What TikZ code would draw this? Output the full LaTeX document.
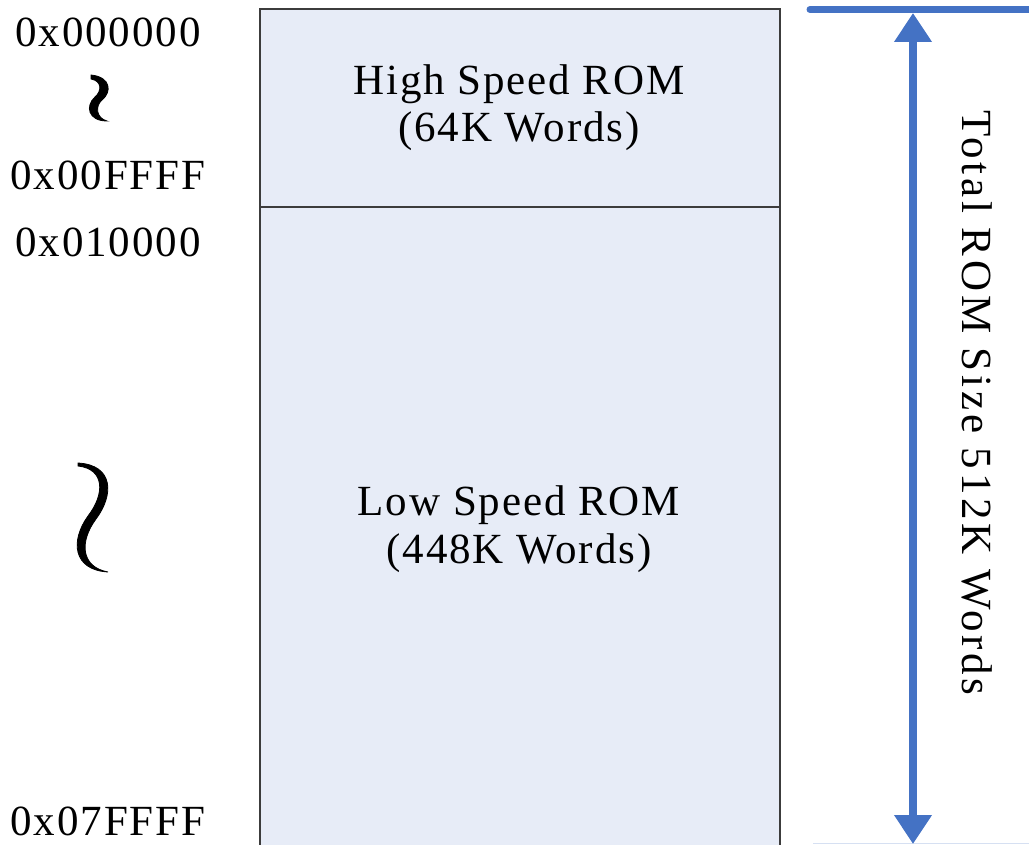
\documentclass[tikz,border=0pt]{standalone}
\usepackage{fontspec}
\setmainfont{Liberation Serif}
\newfontfamily\lsfont[LetterSpace=4.4]{Liberation Serif}
\newfontfamily\vsfont[LetterSpace=8.8]{Liberation Serif}
\usetikzlibrary{arrows.meta}
\definecolor{romfill}{RGB}{231,236,247}
\definecolor{romedge}{RGB}{60,60,60}
\definecolor{dimblue}{RGB}{68,114,196}
\definecolor{dimfaint}{RGB}{214,224,242}
\tikzset{
  lbl/.style={anchor=base, inner sep=0pt, font=\lsfont\fontsize{43}{50}\selectfont},
  romtxt/.style={anchor=base, inner sep=0pt, font=\lsfont\fontsize{43}{50}\selectfont},
  vtxt/.style={anchor=base, inner sep=0pt, rotate=-90, font=\vsfont\fontsize{43}{50}\selectfont},
  dimline/.style={draw=dimblue, line width=7pt, line cap=round},
  dimarrow/.style={draw=dimblue, line width=8pt,
    {Triangle[width=36pt,length=29pt]}-{Triangle[width=36pt,length=29pt]}},
  squig/.style={fill=black, draw=black, line width=0.8pt}
}
\begin{document}
\begin{tikzpicture}[x=1pt,y=-1pt]
\useasboundingbox (0,0) rectangle (1029,845);
\begin{scope}
\clip (0,0) rectangle (1029,845);
% ROM blocks
\draw[fill=romfill, draw=romedge, line width=1.3pt] (260,9) rectangle (780,860);
\draw[romedge, line width=1.3pt] (260,207) -- (780,207);
% dimension lines
\coordinate (dtopL) at (810,9.5);
\coordinate (dtopR) at (1040,9.5);
\draw[dimline] (dtopL) -- (dtopR);
\coordinate (dbotL) at (813,843.5);
\coordinate (dbotR) at (1040,843.5);
\draw[dimfaint, line width=1.2pt] (dbotL) -- (dbotR);
\coordinate (atop) at (913,13);
\coordinate (abot) at (913,844);
\draw[dimarrow] (atop) -- (abot);
\end{scope}
% texts in blocks
\node[romtxt] (hs1) at (519,95) {High Speed ROM};
\node[romtxt] (hs2) at (519,142) {(64K Words)};
\node[romtxt] (ls1) at (519,515) {Low Speed ROM};
\node[romtxt] (ls2) at (519,563) {(448K Words)};
% address labels
\node[lbl] (a0) at (108,47) {0x000000};
\node[lbl] (a1) at (108,190) {0x00FFFF};
\node[lbl] (a2) at (108,257) {0x010000};
\node[lbl] (a3) at (108,835) {0x07FFFF};
% vertical label
\node[vtxt] (tot) at (962,403) {Total ROM Size 512K Words};
% squiggles
\fill[squig] (91,75) .. controls (111,77) and (112,92) .. (102,100)
  .. controls (95,106) and (96,118) .. (107,121)
  .. controls (88,121) and (85,106) .. (95,97)
  .. controls (102,91) and (102,81) .. (91,79) -- cycle;
\fill[squig] (78,463) .. controls (114,465) and (114,495) .. (96,519)
  .. controls (79,542) and (81,567) .. (108,572)
  .. controls (73,570) and (70,541) .. (88,516)
  .. controls (105,494) and (105,469) .. (78,466) -- cycle;
\end{tikzpicture}
\end{document}
